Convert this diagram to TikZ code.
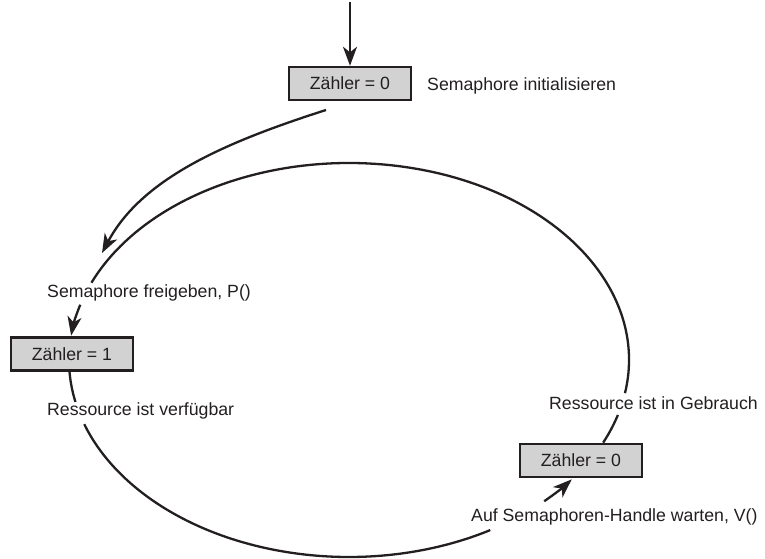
\documentclass[tikz,border=0pt]{standalone}
\usepackage{fontspec}
\setmainfont{Liberation Sans}
\usetikzlibrary{arrows.meta,calc}
\definecolor{ink}{HTML}{231F20}
\definecolor{boxgray}{HTML}{D2D2D2}
\begin{document}
\begin{tikzpicture}[x=1pt,y=1pt,
  every node/.style={font=\fontsize{17.7}{21}\selectfont, text=ink},
  counter/.style={draw=ink, line width=2.4pt, fill=boxgray, minimum width=122pt, minimum height=33pt, inner sep=0pt},
  lbl/.style={anchor=west, inner sep=0pt},
  flow/.style={draw=ink, line width=2.3pt},
  tip/.style={-{Stealth[length=19pt,width=14pt,inset=5.5pt]}},
  ell/.style={x radius=280pt, y radius=197pt}
]
\useasboundingbox (0,0) rectangle (765,559);

% boxes
\node[counter] (b1) at (350,475.5) {Zähler = 0};
\node[counter] (b2) at (72,205) {Zähler = 1};
\node[counter] (b3) at (581,98.5) {Zähler = 0};

% labels
\node[lbl] (l0) at (427,473) {Semaphore initialisieren};
\node[lbl] (l1) at (47,266) {Semaphore freigeben, P()};
\node[lbl] (l2) at (47,148) {Ressource ist verfügbar};
\node[lbl] (l3) at (549,156) {Ressource ist in Gebrauch};
\node[lbl] (l4) at (471,42) {Auf Semaphoren-Handle warten, V()};

% helper coordinates
\coordinate (C) at (349,199);
\coordinate (top) at (350,557);
\coordinate (s1) at (326,449);
\coordinate (t1) at (102,306);
\coordinate (eA) at ($(C)+(-9.7:280 and 197)$);
\coordinate (eB) at ($(C)+(163.7:280 and 197)$);
\coordinate (eC) at ($(C)+(183.5:280 and 197)$);
\coordinate (eD) at ($(C)+(199:280 and 197)$);
\coordinate (eE) at ($(C)+(314.2:280 and 197)$);
\coordinate (eF) at ($(C)+(335.2:280 and 197)$);

% incoming arrow
\draw[flow,tip] (top) -- (b1.north);
% initial arrow to cycle
\draw[flow,tip] (s1) .. controls (226,417) and (142,381) .. (t1);

% cycle segments
\draw[flow] (eA) arc[start angle=-9.7, end angle=156.9, ell];
\draw[flow,tip] (eB) arc[start angle=163.7, end angle=172.9, ell];
\draw[flow] (eC) arc[start angle=183.5, end angle=192.3, ell];
\draw[flow] (eD) arc[start angle=199, end angle=300.3, ell];
\draw[flow,tip] (eE) arc[start angle=314.2, end angle=322.7, ell];
\draw[flow] (eF) arc[start angle=335.2, end angle=343.8, ell];
\end{tikzpicture}
\end{document}
